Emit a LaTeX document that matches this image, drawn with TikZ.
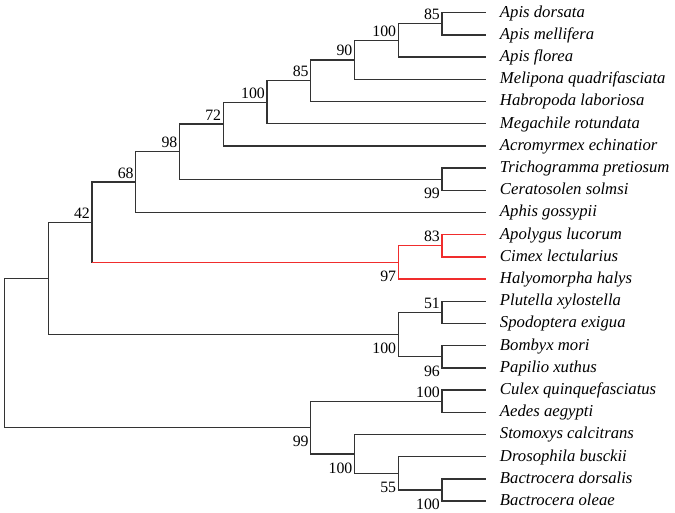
\documentclass[tikz,border=0pt]{standalone}
\usepackage{fontspec}
\setmainfont{Liberation Serif}
\usepackage{xcolor}
\usepackage{tikz}

\definecolor{cladered}{RGB}{240,45,45}
\tikzset{
  branch/.style={draw=black!80, line width=0.75pt},
  redbranch/.style={draw=cladered, line width=0.75pt},
  taxon/.style={anchor=west, inner xsep=7.9pt, inner ysep=0pt, text height=0.7em, text depth=0.2em, font=\fontsize{9.5}{11}\selectfont\itshape},
  bsup/.style={anchor=south east, inner xsep=1pt, inner ysep=2pt, font=\fontsize{9}{10}\selectfont},
  bsdown/.style={anchor=north east, inner xsep=1pt, inner ysep=2pt, yshift=-2.8pt, font=\fontsize{9}{10}\selectfont}
}

\begin{document}
\begin{tikzpicture}[x=0.02cm, y=-0.02cm]
\useasboundingbox (0,0) rectangle (675,512);

% Hymenoptera
\node[taxon] (dorsata) at (485.75,12.7) {Apis dorsata};
\node[taxon] (mellifera) at (485.75,34.9) {Apis mellifera};
\node[taxon] (florea) at (485.75,57.1) {Apis florea};
\node[taxon] (melipona) at (485.75,79.3) {Melipona quadrifasciata};
\node[taxon] (habropoda) at (485.75,101.5) {Habropoda laboriosa};
\node[taxon] (megachile) at (485.75,123.7) {Megachile rotundata};
\node[taxon] (acromyrmex) at (485.75,145.9) {Acromyrmex echinatior};
\node[taxon] (trichogramma) at (485.75,168.1) {Trichogramma pretiosum};
\node[taxon] (ceratosolen) at (485.75,190.3) {Ceratosolen solmsi};
% Hemiptera
\node[taxon] (aphis) at (485.75,212.5) {Aphis gossypii};
\node[taxon] (apolygus) at (485.75,234.7) {Apolygus lucorum};
\node[taxon] (cimex) at (485.75,256.9) {Cimex lectularius};
\node[taxon] (halyomorpha) at (485.75,279.1) {Halyomorpha halys};
% Lepidoptera
\node[taxon] (plutella) at (485.75,301.3) {Plutella xylostella};
\node[taxon] (spodoptera) at (485.75,323.5) {Spodoptera exigua};
\node[taxon] (bombyx) at (485.75,345.7) {Bombyx mori};
\node[taxon] (papilio) at (485.75,367.9) {Papilio xuthus};
% Diptera
\node[taxon] (culex) at (485.75,390.1) {Culex quinquefasciatus};
\node[taxon] (aedes) at (485.75,412.3) {Aedes aegypti};
\node[taxon] (stomoxys) at (485.75,434.5) {Stomoxys calcitrans};
\node[taxon] (drosophila) at (485.75,456.7) {Drosophila busckii};
\node[taxon] (bdorsalis) at (485.75,478.9) {Bactrocera dorsalis};
\node[taxon] (boleae) at (485.75,501.1) {Bactrocera oleae};

% internal nodes
\coordinate (apis85) at (442,23.8);
\coordinate (apis100) at (398.25,40.45);
\coordinate (apis90) at (354.5,59.9);
\coordinate (bees85) at (310.75,80.7);
\coordinate (bees100) at (267,102.2);
\coordinate (hym72) at (223.25,124.05);
\coordinate (chalc99) at (442,179.2);
\coordinate (hym98) at (179.5,151.6);
\coordinate (hol68) at (135.75,182.05);
\coordinate (het83) at (442,245.8);
\coordinate (het97) at (398.25,262.45);
\coordinate (ins42) at (92,222.25);
\coordinate (ins0) at (48.25,278.4);
\coordinate (lep51) at (442,312.4);
\coordinate (lep96) at (442,356.8);
\coordinate (lep100) at (398.25,334.6);
\coordinate (mosq100) at (442,401.2);
\coordinate (bact100) at (442,490);
\coordinate (dros55) at (398.25,473.35);
\coordinate (fly100) at (354.5,453.9);
\coordinate (dip99) at (310.75,427.55);
\coordinate (root) at (4.5,353);

% branches
\draw[branch] (apis85) |- (dorsata.west) (apis85) |- (mellifera.west);
\draw[branch] (apis100) |- (apis85) (apis100) |- (florea.west);
\draw[branch] (apis90) |- (apis100) (apis90) |- (melipona.west);
\draw[branch] (bees85) |- (apis90) (bees85) |- (habropoda.west);
\draw[branch] (bees100) |- (bees85) (bees100) |- (megachile.west);
\draw[branch] (hym72) |- (bees100) (hym72) |- (acromyrmex.west);
\draw[branch] (chalc99) |- (trichogramma.west) (chalc99) |- (ceratosolen.west);
\draw[branch] (hym98) |- (hym72) (hym98) |- (chalc99);
\draw[branch] (hol68) |- (hym98) (hol68) |- (aphis.west);
\draw[branch] (ins42) |- (hol68) (ins42) |- (het97);
\draw[redbranch] (ins42 |- het97) -- (het97);
\draw[redbranch] (het97) |- (het83) (het97) |- (halyomorpha.west);
\draw[redbranch] (het83) |- (apolygus.west) (het83) |- (cimex.west);
\draw[branch] (lep51) |- (plutella.west) (lep51) |- (spodoptera.west);
\draw[branch] (lep96) |- (bombyx.west) (lep96) |- (papilio.west);
\draw[branch] (lep100) |- (lep51) (lep100) |- (lep96);
\draw[branch] (ins0) |- (ins42) (ins0) |- (lep100);
\draw[branch] (mosq100) |- (culex.west) (mosq100) |- (aedes.west);
\draw[branch] (bact100) |- (bdorsalis.west) (bact100) |- (boleae.west);
\draw[branch] (dros55) |- (drosophila.west) (dros55) |- (bact100);
\draw[branch] (fly100) |- (stomoxys.west) (fly100) |- (dros55);
\draw[branch] (dip99) |- (mosq100) (dip99) |- (fly100);
\draw[branch] (root) |- (ins0) (root) |- (dip99);

% support values
\node[bsup] (bs1) at (apis85) {85};
\node[bsup] (bs2) at (apis100) {100};
\node[bsup] (bs3) at (apis90) {90};
\node[bsup] (bs4) at (bees85) {85};
\node[bsup] (bs5) at (bees100) {100};
\node[bsup] (bs6) at (hym72) {72};
\node[bsup] (bs7) at (hym98) {98};
\node[bsup] (bs8) at (hol68) {68};
\node[bsup] (bs9) at (ins42) {42};
\node[bsup] (bs10) at (het83) {83};
\node[bsup] (bs11) at (lep51) {51};
\node[bsup] (bs12) at (mosq100) {100};
\node[bsdown] (bs13) at (chalc99) {99};
\node[bsdown] (bs14) at (het97) {97};
\node[bsdown] (bs15) at (lep100) {100};
\node[bsdown] (bs16) at (lep96) {96};
\node[bsdown] (bs17) at (dip99) {99};
\node[bsdown] (bs18) at (fly100) {100};
\node[bsdown] (bs19) at (dros55) {55};
\node[bsdown] (bs20) at (bact100) {100};
\end{tikzpicture}
\end{document}
